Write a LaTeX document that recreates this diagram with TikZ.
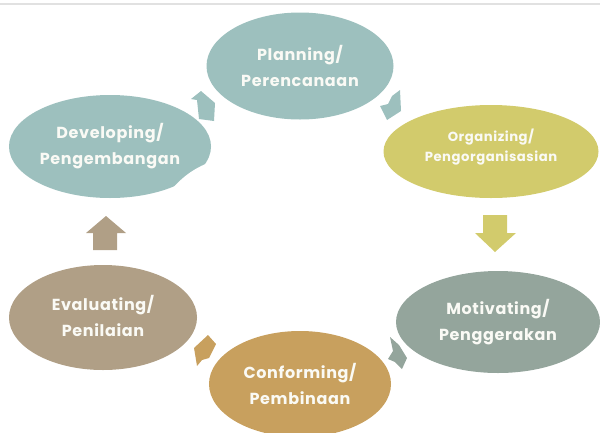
\documentclass[tikz,border=0pt]{standalone}
\usepackage{fontspec}
\setmainfont{Poppins}[LetterSpace=4]
\usetikzlibrary{shapes.geometric}
\definecolor{cTeal}{RGB}{157,192,190}
\definecolor{cYel}{RGB}{210,203,108}
\definecolor{cMot}{RGB}{148,165,156}
\definecolor{cCon}{RGB}{200,160,94}
\definecolor{cEva}{RGB}{176,159,134}
\definecolor{cLine}{RGB}{225,225,225}
\definecolor{cText}{RGB}{250,250,245}
\tikzset{
  stage/.style={ellipse, inner sep=0pt, text=cText, align=center,
    font=\bfseries\fontsize{16}{25.5}\selectfont},
  smallstage/.style={stage, font=\bfseries\fontsize{13.2}{20.5}\selectfont}
}
\begin{document}
\begin{tikzpicture}[x=1pt,y=-1pt]
\useasboundingbox (0,0) rectangle (600,432);
\coordinate (lineL) at (0,4);
\coordinate (lineR) at (600,4);
\draw[cLine, line width=1.3pt] (lineL) -- (lineR);

% stages
\node[stage, fill=cTeal, minimum width=187pt, minimum height=107pt] (plan) at (300,66) {Planning/\\Perencanaan};
\node[stage, fill=cTeal, minimum width=202pt, minimum height=103pt] (dev) at (110,146.5) {};
\fill[white] (240,245) circle (88);
\node[stage] (devt) at (110,146) {Developing/\\Pengembangan};
\node[smallstage, fill=cYel, minimum width=215pt, minimum height=93pt] (org) at (491,151.5) {};
\node[smallstage] (orgt) at (491,147) {Organizing/\\Pengorganisasian};
\node[stage, fill=cMot, minimum width=204pt, minimum height=102pt] (mot) at (498,322) {Motivating/\\Penggerakan};
\node[stage, fill=cEva, minimum width=188pt, minimum height=105pt] (eva) at (103,317.5) {};
\node[stage] (evat) at (103,316) {Evaluating/\\Penilaian};
\node[stage, fill=cCon, minimum width=182pt, minimum height=106pt] (con) at (300,384) {Conforming/\\Pembinaan};

% arrows
\fill[cTeal] (191,99) -- (201,91) -- (215,103) -- (214,121) -- (199,119) -- (197,100) -- cycle;
\fill[cTeal] (400,90) -- (392,96) -- (388,104) -- (380,106) -- (387,120) -- (401,111) -- cycle;
\fill[cYel] (483,215) -- (507,215) -- (507,233) -- (516,233) -- (495,252) -- (475,233) -- (483,233) -- cycle;
\fill[cMot] (390,337) -- (399,345) -- (407,358) -- (402,369) -- (395,362) -- (388,359) -- (393,351) -- cycle;
\fill[cCon] (194,348) -- (208,335) -- (216,344) -- (209,358) -- (202,360) -- (197,366) -- cycle;
\fill[cEva] (106,216) -- (126,233) -- (117,233) -- (117,250) -- (93,250) -- (93,233) -- (86,233) -- cycle;
\end{tikzpicture}
\end{document}
